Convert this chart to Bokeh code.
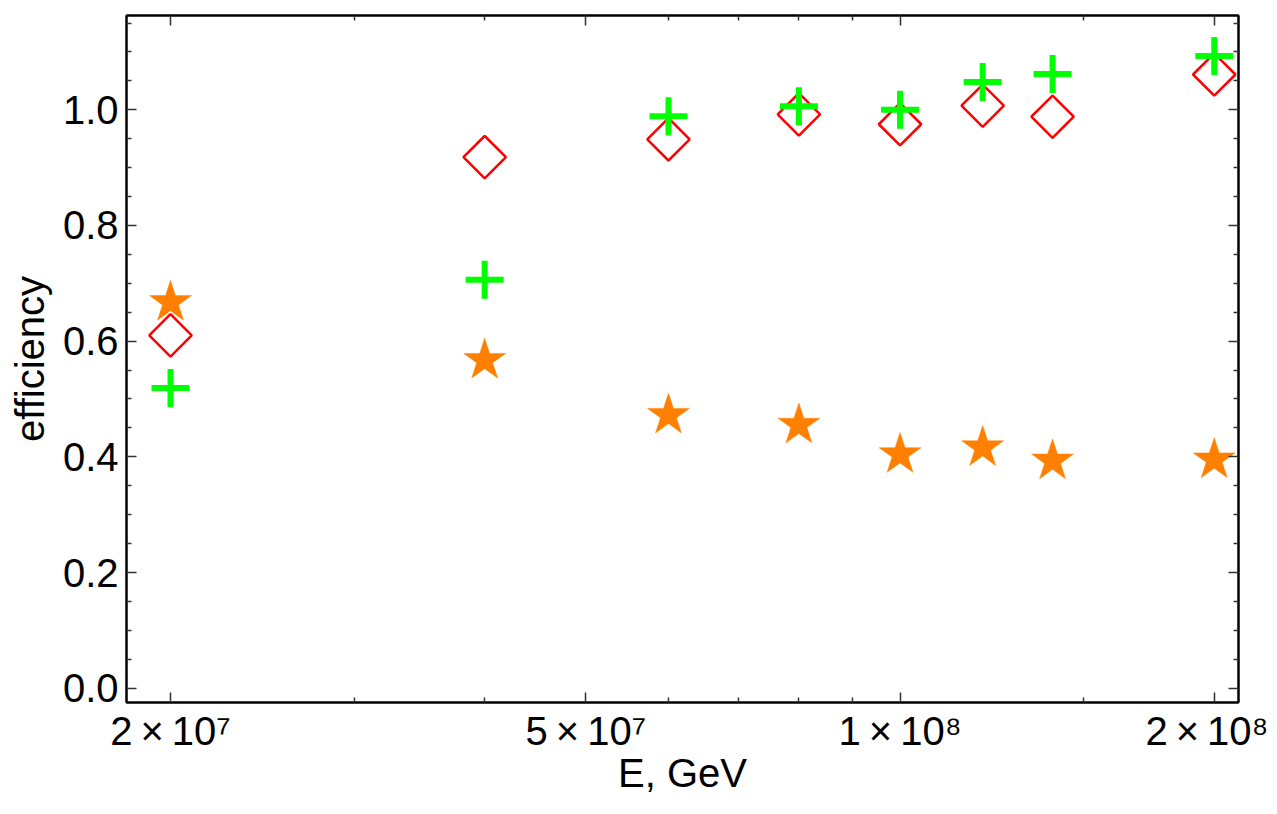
import math
from bokeh.plotting import figure
from bokeh.models import FixedTicker, LogAxis, LinearAxis, ColumnDataSource, Range1d, PrintfTickFormatter
from bokeh.embed import file_html
from bokeh.resources import INLINE

# Data
energy = [2e7, 4e7, 6e7, 8e7, 1e8, 1.2e8, 1.4e8, 2e8]
eff_star = [0.667, 0.567, 0.472, 0.455, 0.404, 0.416, 0.393, 0.395]
eff_diamond = [0.610, 0.918, 0.949, 0.992, 0.975, 1.007, 0.988, 1.061]
eff_plus = [0.519, 0.706, 0.989, 1.006, 1.000, 1.048, 1.062, 1.093]

x_major = [2e7, 5e7, 1e8, 2e8]
x_minor = [3e7, 4e7, 6e7, 7e7, 8e7, 9e7, 1.5e8]
x_labels = {2e7: "2\u2009×\u200910⁷", 5e7: "5\u2009×\u200910⁷",
            1e8: "1\u2009×\u200910⁸", 2e8: "2\u2009×\u200910⁸"}
y_major = [0.0, 0.2, 0.4, 0.6, 0.8, 1.0]
y_minor = [round(0.05 * i, 2) for i in range(0, 24) if i % 4 != 0]

FONT = "Liberation Sans"

p = figure(
    x_axis_type="log",
    x_range=Range1d(1.815e7, 2.11e8),
    y_range=Range1d(-0.0247, 1.163),
    frame_width=1112,
    frame_height=687,
    min_border_left=126,
    min_border_right=30,
    min_border_top=15,
    min_border_bottom=96,
    output_backend="svg",
    toolbar_location=None,
    x_axis_label="E, GeV",
    y_axis_label="efficiency",
)
p.grid.visible = False
p.outline_line_color = "black"
p.outline_line_width = 2

src = ColumnDataSource(dict(x=energy, s=eff_star, d=eff_diamond, c=eff_plus))

p.scatter("x", "s", source=src, marker="star", size=44, fill_color="#FF8000",
          line_color="#FF8000", line_width=0.5)
p.scatter("x", "d", source=src, marker="square", size=30, angle=math.pi / 4,
          fill_color=None, line_color="#FF0000", line_width=2.5)
p.scatter("x", "c", source=src, marker="cross", size=38, line_color="#00FF00",
          line_width=6)


def style_axis(ax, labels=True, ticks=None):
    ax.axis_line_color = "black"
    ax.axis_line_width = 2
    ax.major_tick_in = 10
    ax.major_tick_out = 0
    ax.minor_tick_in = 5
    ax.minor_tick_out = 0
    ax.major_tick_line_color = "#333333"
    ax.minor_tick_line_color = "#333333"
    ax.major_tick_line_width = 1.5
    ax.minor_tick_line_width = 1.5
    if labels:
        ax.major_label_text_font = FONT
        ax.major_label_text_font_size = "40px"
        ax.major_label_text_color = "black"
        ax.axis_label_text_font = FONT
        ax.axis_label_text_font_size = "40px"
        ax.axis_label_text_font_style = "normal"
        ax.axis_label_text_color = "black"
    else:
        ax.major_label_overrides = {t: "" for t in ticks}
        ax.major_label_standoff = 0
        ax.axis_label = None


xt = FixedTicker(ticks=x_major, minor_ticks=x_minor)
yt = FixedTicker(ticks=y_major, minor_ticks=y_minor)

xa = p.xaxis[0]
xa.ticker = xt
xa.major_label_overrides = x_labels
style_axis(xa)
xa.major_label_standoff = 6
xa.axis_label_standoff = -5

ya = p.yaxis[0]
ya.ticker = yt
ya.formatter = PrintfTickFormatter(format="%.1f")
style_axis(ya)
ya.major_label_standoff = 8
ya.axis_label_standoff = 8

top = LogAxis(ticker=FixedTicker(ticks=x_major, minor_ticks=x_minor))
style_axis(top, labels=False, ticks=x_major)
p.add_layout(top, "above")

right = LinearAxis(ticker=FixedTicker(ticks=y_major, minor_ticks=y_minor))
style_axis(right, labels=False, ticks=y_major)
p.add_layout(right, "right")

open("out.html", "w").write(file_html(p, INLINE))
